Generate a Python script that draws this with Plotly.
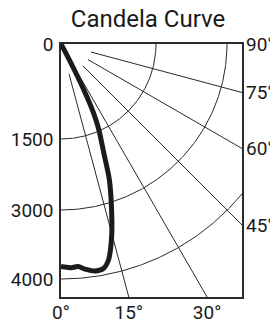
import numpy as np
import plotly.graph_objects as go

# ---- data ----
angles_deg = [0, 2.3, 4.4, 6.1, 8.5, 10.7, 12.4, 14.7, 16.7, 19.6, 21.3, 23.8, 24.7, 25.5, 26.5, 27.2, 28, 29]
candela = [3820, 3840, 3830, 3875, 3920, 3905, 3800, 3485, 3150, 2540, 2005, 1485, 1320, 1140, 790, 475, 190, 0]

ring_values = [0, 1500, 3000, 4000]
ring_labels = ["0", "1500", "3000", "4000"]
bottom_angles = [0, 15, 30]
bottom_labels = ["0°", "15°", "30°"]
side_angles = [90, 75, 60, 45]
side_labels = ["90°", "75°", "60°", "45°"]
spoke_angles = [15, 30, 45, 60, 75]

# ---- layout geometry (display units) ----
W, H = 181, 253                 # box size in display units
RING_R = [0, 95, 166, 235]      # radial display positions of the rings
SPOKE_START = 31
SPOKE_END = 420
LINE = "#2a2a2a"
FONT = "Roboto"


def radial(cd):
    return np.interp(cd, ring_values, RING_R)


def to_xy(theta_deg, r):
    t = np.radians(np.asarray(theta_deg, dtype=float))
    return np.asarray(r) * np.sin(t), np.asarray(r) * np.cos(t)


fig = go.Figure()

# rings
arc_t = np.linspace(0, 90, 181)
for v in ring_values[1:]:
    x, y = to_xy(arc_t, np.full_like(arc_t, radial(v)))
    fig.add_trace(go.Scatter(x=x, y=y, mode="lines", line=dict(color=LINE, width=1),
                             hoverinfo="skip", showlegend=False))

# spokes
for a in spoke_angles:
    x, y = to_xy([a, a], [SPOKE_START, SPOKE_END])
    fig.add_trace(go.Scatter(x=x, y=y, mode="lines", line=dict(color=LINE, width=1),
                             hoverinfo="skip", showlegend=False))

# candela curve
cx, cy = to_xy(angles_deg, radial(np.array(candela, dtype=float)))
fig.add_trace(go.Scatter(x=cx, y=cy, mode="lines",
                         line=dict(color="#1b1b1b", width=5, shape="spline", smoothing=0.8),
                         showlegend=False))

# invisible trace for the right axis
fig.add_trace(go.Scatter(x=[0], y=[0], yaxis="y2", mode="markers",
                         marker=dict(opacity=0), hoverinfo="skip", showlegend=False))

bottom_pos = [H * np.tan(np.radians(a)) for a in bottom_angles]
side_pos = [W / np.tan(np.radians(a)) if a != 90 else 0 for a in side_angles]

tickfont = dict(family=FONT, size=19, color="#1a1a1a")

fig.update_layout(
    width=270, height=320,
    margin=dict(l=61, r=28, t=44, b=23, autoexpand=False),
    paper_bgcolor="white", plot_bgcolor="white",
    title=dict(text="Candela Curve", x=148 / 270, xanchor="center",
               y=1 - 19 / 320, yanchor="middle", automargin=False,
               font=dict(family=FONT, size=24, color="#1a1a1a")),
    xaxis=dict(range=[0, W], showgrid=False, zeroline=False, showline=True, mirror=True,
               linecolor=LINE, linewidth=1.5, tickvals=bottom_pos, ticktext=bottom_labels,
               ticks="", tickfont=tickfont, ticklabelstandoff=-3, fixedrange=True,
               automargin=False),
    yaxis=dict(range=[H, 0], showgrid=False, zeroline=False, showline=True, mirror=True,
               linecolor=LINE, linewidth=1.5, tickvals=RING_R, ticktext=ring_labels,
               ticks="", tickfont=tickfont, ticklabelstandoff=2, fixedrange=True,
               automargin=False),
    yaxis2=dict(range=[H, 0], overlaying="y", side="right", showgrid=False, zeroline=False,
                showline=False, tickvals=side_pos, ticktext=side_labels, ticks="",
                tickfont=tickfont, ticklabelstandoff=3, fixedrange=True, automargin=False),
)

fig.write_html("out.html", config={"displayModeBar": False},
               post_script="document.body.style.margin='0';document.body.style.overflow='hidden';")
